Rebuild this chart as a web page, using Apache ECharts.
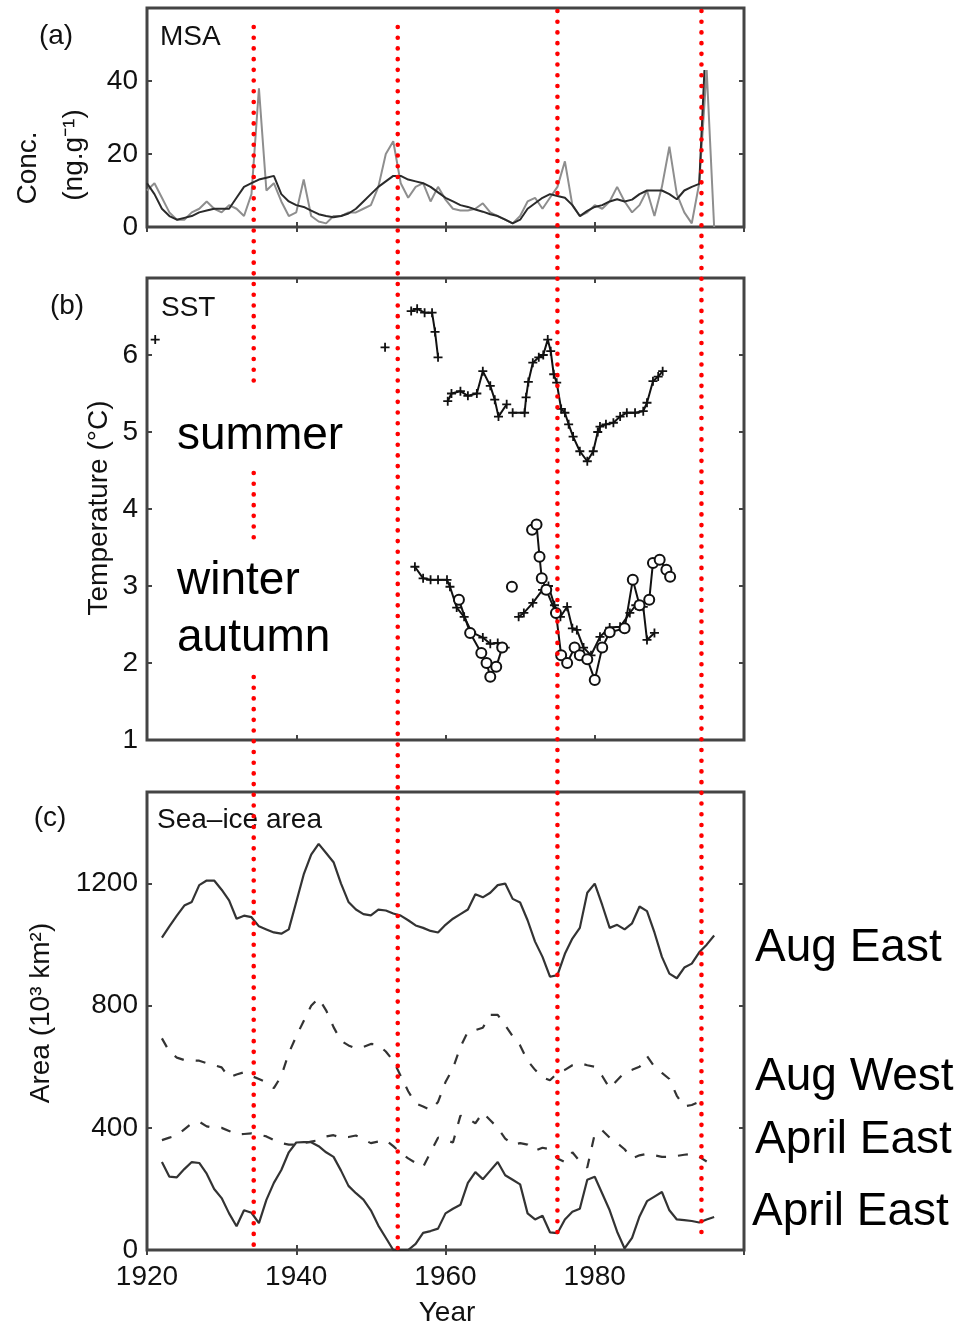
<!DOCTYPE html>
<html><head><meta charset="utf-8">
<script src="https://cdn.jsdelivr.net/npm/echarts@6/dist/echarts.min.js"></script>
<style>html,body{margin:0;padding:0;background:#fff}#c{width:978px;height:1326px}</style>
</head><body><div id="c"></div>
<script>
// ---------- DATA ----------
const xTicks = [1920, 1940, 1960, 1980, 2000];
// (a) MSA concentration (ng/g)
const msaYears = [1920,1921,1922,1923,1924,1925,1926,1927,1928,1929,1930,1931,1932,1933,1934,1935,1936,1937,1938,1939,1940,1941,1942,1943,1944,1945,1946,1947,1948,1949,1950,1951,1952,1953,1954,1955,1956,1957,1958,1959,1960,1961,1962,1963,1964,1965,1966,1967,1968,1969,1970,1971,1972,1973,1974,1975,1976,1977,1978,1979,1980,1981,1982,1983,1984,1985,1986,1987,1988,1989,1990,1991,1992,1993,1994,1995,1996];
const msaAnnual = [10,12,8,4,2,2,4,5,7,5, 4,6,5,3,9,38,10,12,7,3, 4,13,3,1.5,1,3,3,4,4,5, 6,11,20,23.5,12,8,11,12,7,11, 7.5,5,4.5,4.5,5,6.5,4,3,2,1, 3,7,8,5,8,11,18,6,3,4, 6,5,7,11,7,4,6,10,3,11, 22,9,4,1,12,43,0];
const msaSmoothYears = [1920,1921,1922,1923,1924,1925,1926,1927,1928,1929,1930,1931,1932,1933,1934,1935,1936,1937,1938,1939,1940,1941,1942,1943,1944,1945,1946,1947,1948,1949,1950,1951,1952,1953,1954,1955,1956,1957,1958,1959,1960,1961,1962,1963,1964,1965,1966,1967,1968,1969,1970,1971,1972,1973,1974,1975,1976,1977,1978,1979,1980,1981,1982,1983,1984,1985,1986,1987,1988,1989,1990,1991,1992,1993,1994,1994.7];
const msaSmooth = [12,9,5,3,2,2.5,3,4,4.5,5, 5,5,8,11,12,13,13.5,14,9,7, 6,5.5,4.5,3.5,3,2.7,3,3.7,5,7, 9,11,12.5,14,14,13,12.5,12,11,9.5, 8,7,6,5.5,4.8,4.2,3.5,3,2,1, 2,5,6.5,8,9,8.5,8,6,3,4.4, 5.5,6,7,7.6,7,7.5,9,10,10,10, 9,7.6,10,11,11.8, 43];

// (b) SST (deg C); null = gap
const sstSummerYears = [1921.1,null,1951.9,null,1955.4,1956.2,1957.2,1958.2,1958.6,1959.0,null,1960.3,1960.8,1962.0,1963.0,1964.2,1965.0,1966.0,1966.6,1967.1,1968.2,null,1969.0,1970.6,1970.8,1971.1,1971.7,1972.5,1973.1,1973.7,1974.1,1974.5,1974.9,1975.5,1976.0,1976.5,1977.1,1978.0,1979.0,1979.8,1980.4,1980.7,1981.5,1982.5,1983.4,1984.3,1985.4,1986.5,1987.0,1987.8,1988.5,1989.1];
const sstSummer = [6.2,null,6.1,null,6.57,6.6,6.55,6.55,6.3,5.97,null,5.4,5.5,5.53,5.47,5.5,5.79,5.6,5.42,5.2,5.36,null,5.25,5.25,5.45,5.65,5.9,5.97,6.0,6.2,6.05,5.75,5.64,5.3,5.25,5.1,4.94,4.75,4.62,4.75,5.0,5.07,5.1,5.12,5.2,5.25,5.25,5.27,5.38,5.66,5.72,5.79];
const sstAutumnYears = [1955.9,1957.0,1958.0,1959.0,1960.2,1960.6,1961.5,1962.5,1963.5,1965.0,1966.0,1967.0,1968.0,null,1969.8,1970.5,1971.7,1973.0,1973.8,1974.6,1975.4,1976.3,1977.0,1977.6,1978.5,1979.5,1980.7,1982.0,1983.4,1984.7,1985.5,1986.5,1987.0,1988.0];
const sstAutumn = [3.25,3.1,3.08,3.08,3.08,2.99,2.72,2.6,2.4,2.33,2.25,2.26,2.2,null,2.6,2.65,2.78,2.95,3.0,2.75,2.6,2.73,2.45,2.43,2.2,2.1,2.34,2.46,2.47,2.65,2.75,2.73,2.3,2.39];
const sstWinterYears = [1961.8,1963.3,1964.8,1965.5,1966.0,1966.8,1967.6,null,1968.9,null,1971.6,1972.2,1972.6,1972.9,1973.5,1974.8,1975.5,1976.3,1977.3,1978.0,1979.0,1980.0,1981.0,1982.0,1984.0,1985.1,1986.0,1987.3,1987.8,1988.7,1989.6,1990.1];
const sstWinter = [2.82,2.39,2.13,2.0,1.82,1.95,2.2,null,2.99,null,3.73,3.8,3.38,3.1,2.95,2.65,2.1,2.0,2.2,2.1,2.05,1.78,2.2,2.4,2.45,3.08,2.75,2.82,3.3,3.34,3.21,3.12];

// (c) Sea-ice area (10^3 km^2)
const iceYears = [1922,1923,1924,1925,1926,1927,1928,1929,1930,1931,1932,1933,1934,1935,1936,1937,1938,1939,1940,1941,1942,1943,1944,1945,1946,1947,1948,1949,1950,1951,1952,1953,1954,1955,1956,1957,1958,1959,1960,1961,1962,1963,1964,1965,1966,1967,1968,1969,1970,1971,1972,1973,1974,1975,1976,1977,1978,1979,1980,1981,1982,1983,1984,1985,1986,1987,1988,1989,1990,1991,1992,1993,1994,1995,1996];
const augEast = [1023,1060,1095,1128,1140,1195,1210,1210,1180,1145, 1085,1095,1090,1060,1050,1040,1036,1050,1140,1230, 1295,1330,1300,1270,1200,1140,1115,1100,1096,1115, 1112,1102,1095,1080,1063,1055,1045,1040,1065,1085, 1100,1115,1165,1155,1170,1195,1200,1150,1138,1080, 1010,960,895,900,970,1020,1055,1170,1200,1130, 1055,1065,1050,1070,1125,1110,1040,960,905,890, 925,938,975,1000,1030];
const augWest = [693,650,630,622,621,620,612,605,598,565, 575,582,570,560,549,530,570,645,700,750, 800,825,785,730,685,670,660,665,675,672, 650,620,570,520,480,470,458,485,550,595, 665,715,720,728,770,770,736,700,670,620, 590,565,556,580,590,605,612,605,600,570, 530,556,582,590,600,635,600,580,560,505, 470,475,485,495,null];
const aprilEastDashed = [360,368,375,395,415,420,405,400,400,390, 378,380,382,378,372,360,350,345,345,350, 355,360,372,376,368,370,375,362,350,355, 360,340,318,300,285,272,320,368,360,352, 440,430,415,450,425,400,365,345,350,345, 325,335,330,300,288,320,290,270,380,392, 368,350,330,300,310,315,310,305,305,308, 312,315,305,290,null];
const aprilEastSolid = [288,240,238,265,288,285,250,200,170,120, 78,130,122,88,164,220,262,320,352,353, 353,340,320,305,260,210,186,165,130,80, 40,0,0,0,20,56,62,70,120,135, 148,220,255,232,260,288,245,230,215,120, 100,112,58,55,100,125,135,230,240,185, 130,60,5,40,110,160,175,190,130,100, 98,95,90,100,108];

// Event lines (years)
const eventYears = [1934.3, 1953.6, 1975.0, 1994.3];

// ---------- CHART ----------
const FONT = '"Liberation Sans", Arial, Helvetica, sans-serif';
const INK = '#111';
const FRAME = '#444';
function pairs(xs, ys) { return xs.map((x, i) => (x == null || ys[i] == null) ? ['-', '-'] : [x, ys[i]]); }
const plain = v => String(v);

const grids = [
  {left: 147, width: 597, top: 8, height: 219},
  {left: 147, width: 597, top: 278, height: 462},
  {left: 147, width: 597, top: 792, height: 458}
].map(g => Object.assign(g, {show: true, borderColor: FRAME, borderWidth: 3, backgroundColor: 'transparent'}));

const xAxes = [];
for (let pos of ['bottom', 'top']) {
  for (let g = 0; g < 3; g++) {
    xAxes.push({
      type: 'value', gridIndex: g, position: pos, min: 1920, max: 2000, interval: 20,
      axisLine: {show: false}, splitLine: {show: false},
      axisTick: {show: true, inside: true, length: 5, lineStyle: {color: FRAME, width: 2}},
      axisLabel: {show: pos === 'bottom' && g === 2, fontFamily: FONT, fontSize: 28, color: INK, margin: 13,
        showMinLabel: true, showMaxLabel: false, formatter: plain}
    });
  }
}
const yDefs = [
  {min: 0, max: 60, interval: 20},
  {min: 1, max: 7, interval: 1},
  {min: 0, max: 1500, interval: 400}
];
const yAxes = [];
for (let pos of ['left', 'right']) {
  for (let g = 0; g < 3; g++) {
    yAxes.push(Object.assign({
      type: 'value', gridIndex: g, position: pos,
      axisLine: {show: false}, splitLine: {show: false},
      axisTick: {show: true, inside: true, length: 5, lineStyle: {color: FRAME, width: 2}},
      axisLabel: {show: pos === 'left', fontFamily: FONT, fontSize: 28, color: INK, margin: 9, showMaxLabel: false, formatter: plain}
    }, yDefs[g]));
  }
}

const PLUS = 'path://M4,0h2v10h-2zM0,4h10v2h-10z';
const lineBase = {type: 'line', showSymbol: false, symbol: 'none', animation: false, connectNulls: false};

const series = [
  Object.assign({}, lineBase, {name: 'MSA annual', xAxisIndex: 0, yAxisIndex: 0, data: pairs(msaYears, msaAnnual),
    lineStyle: {color: '#8e8e8e', width: 2}}),
  Object.assign({}, lineBase, {name: 'MSA smoothed', xAxisIndex: 0, yAxisIndex: 0, data: pairs(msaSmoothYears, msaSmooth),
    lineStyle: {color: '#2a2a2a', width: 2}}),
  Object.assign({}, lineBase, {name: 'summer', xAxisIndex: 1, yAxisIndex: 1, data: pairs(sstSummerYears, sstSummer),
    showSymbol: true, showAllSymbol: true, symbol: PLUS, symbolSize: 9,
    itemStyle: {color: INK}, lineStyle: {color: INK, width: 2}}),
  Object.assign({}, lineBase, {name: 'autumn', xAxisIndex: 1, yAxisIndex: 1, data: pairs(sstAutumnYears, sstAutumn),
    showSymbol: true, showAllSymbol: true, symbol: PLUS, symbolSize: 9,
    itemStyle: {color: INK}, lineStyle: {color: INK, width: 2}}),
  Object.assign({}, lineBase, {name: 'winter', xAxisIndex: 1, yAxisIndex: 1, data: pairs(sstWinterYears, sstWinter),
    showSymbol: true, showAllSymbol: true, symbol: 'emptyCircle', symbolSize: 10,
    itemStyle: {color: INK, borderColor: INK, borderWidth: 1.8}, lineStyle: {color: INK, width: 2}}),
  Object.assign({}, lineBase, {name: 'Aug East', xAxisIndex: 2, yAxisIndex: 2, data: pairs(iceYears, augEast),
    lineStyle: {color: '#333', width: 2.2}}),
  Object.assign({}, lineBase, {name: 'Aug West', xAxisIndex: 2, yAxisIndex: 2, data: pairs(iceYears, augWest),
    lineStyle: {color: '#333', width: 2.2, type: [10, 12]}}),
  Object.assign({}, lineBase, {name: 'April East dashed', xAxisIndex: 2, yAxisIndex: 2, data: pairs(iceYears, aprilEastDashed),
    lineStyle: {color: '#333', width: 2.2, type: [10, 12]}}),
  Object.assign({}, lineBase, {name: 'April East', xAxisIndex: 2, yAxisIndex: 2, data: pairs(iceYears, aprilEastSolid),
    lineStyle: {color: '#333', width: 2.2}})
];

const chart = echarts.init(document.getElementById('c'), null, {renderer: 'canvas'});
chart.setOption({
  animation: false,
  backgroundColor: '#fff',
  grid: grids, xAxis: xAxes, yAxis: yAxes, series: series
});

// ---------- ANNOTATIONS ----------
function txt(text, x, y, size, opts) {
  opts = opts || {};
  return {
    type: 'text', x: x, y: y, rotation: opts.rot || 0, z: 50,
    style: {text: text, x: 0, y: 0, font: (opts.weight || 'normal') + ' ' + size + 'px ' + FONT,
      fill: opts.fill || INK, align: opts.align || 'center', verticalAlign: 'middle'}
  };
}
const R = Math.PI / 2;
const elements = [
  txt('(a)', 56, 36, 28), txt('MSA', 160, 37, 28, {align: 'left'}),
  txt('Conc.', 28, 168, 28, {rot: R}), txt('(ng.g\u207B\u00B9)', 74, 155, 28, {rot: R}),
  txt('(b)', 67, 306, 28), txt('SST', 161, 308, 28, {align: 'left'}),
  txt('Temperature (\u00B0C)', 99, 508, 28, {rot: R}),
  txt('(c)', 50, 818, 28), txt('Sea\u2013ice area', 157, 820, 28, {align: 'left'}),
  txt('Area (10\u00B3 km\u00B2)', 41, 1013, 28, {rot: R}),
  txt('Year', 447, 1313, 28),
  txt('summer', 177, 436, 46, {align: 'left', fill: '#000'}),
  txt('winter', 177, 581, 46, {align: 'left', fill: '#000'}),
  txt('autumn', 177, 638, 46, {align: 'left', fill: '#000'}),
  txt('Aug East', 755, 948, 46, {align: 'left', fill: '#000'}),
  txt('Aug West', 755, 1077, 46, {align: 'left', fill: '#000'}),
  txt('April East', 755, 1140, 46, {align: 'left', fill: '#000'}),
  txt('April East', 752, 1212, 46, {align: 'left', fill: '#000'})
];
const eventSpans = [
  [[27, 390], [473, 538], [677, 1254]],
  [[27, 1253]],
  [[11, 1238]],
  [[11, 1238]]
];
eventYears.forEach((yr, i) => {
  const px = chart.convertToPixel({xAxisIndex: 0}, yr);
  eventSpans[i].forEach(sp => {
    elements.push({
      type: 'line', z: 60,
      shape: {x1: px, y1: sp[0], x2: px, y2: sp[1]},
      style: {stroke: '#ff0000', lineWidth: 4.6, lineCap: 'round', lineDash: [0.01, 10.7]}
    });
  });
});
chart.setOption({graphic: {elements: elements}});
</script>
</body></html>
